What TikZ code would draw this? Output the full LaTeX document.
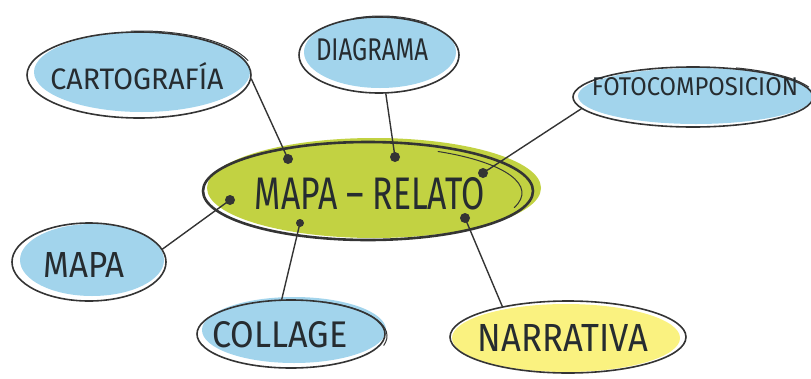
\documentclass[tikz,border=0pt]{standalone}
\usepackage{fontspec}
\setmainfont{Fira Sans}
\usepackage{graphicx}
\usetikzlibrary{shapes.geometric}
\definecolor{ink}{RGB}{38,44,48}
\definecolor{outline}{RGB}{52,52,52}
\definecolor{skyfill}{RGB}{162,212,236}
\definecolor{limefill}{RGB}{194,210,66}
\definecolor{lemonfill}{RGB}{250,242,128}
% lettering squeezed to a given width and cap height
\newcommand\handtext[3]{\resizebox{#1}{#2}{#3}}

\begin{document}
\begin{tikzpicture}[x=1pt,y=-1pt,
  bubble/.style={ellipse, draw=outline, line width=1.6pt, inner sep=0pt},
  hub/.style={ellipse, draw=outline, line width=2.6pt, inner sep=0pt},
  word/.style={text=ink, inner sep=0pt},
  wire/.style={draw=outline, line width=1.4pt, line cap=round},
  sketch/.style={draw=outline, line width=1pt, line cap=round},
  knot/.style={circle, fill=outline, inner sep=0pt, minimum size=10pt}]
\useasboundingbox (0,0) rectangle (811,378);

% colour washes, laid a little off the outlines
\fill[skyfill]   (142,72)  ellipse [x radius=108, y radius=40];
\fill[skyfill]   (380,52)  ellipse [x radius=76,  y radius=36];
\fill[skyfill]   (696,96)  ellipse [x radius=118, y radius=28];
\fill[limefill]  (374,188) ellipse [x radius=167, y radius=50];
\fill[skyfill]   (92,260)  ellipse [x radius=72,  y radius=36];
\fill[skyfill]   (294,330) ellipse [x radius=92,  y radius=33];
\fill[lemonfill] (566,338) ellipse [x radius=114, y radius=34];

% bubbles
\node[bubble, minimum width=224pt, minimum height=86pt] (cart) at (139,75)  {};
\node[bubble, minimum width=160pt, minimum height=76pt] (diag) at (379,55)  {};
\node[bubble, minimum width=240pt, minimum height=60pt] (foto) at (693,97)  {};
\node[hub,    minimum width=330pt, minimum height=98pt] (hub)  at (368,191) {};
\node[bubble, minimum width=154pt, minimum height=78pt] (mapa) at (89,262)  {};
\node[bubble, minimum width=188pt, minimum height=68pt] (coll) at (291,334) {};
\node[bubble, minimum width=236pt, minimum height=72pt] (narr) at (568,337) {};

% sketchy second strokes (negative angles point up the page)
\draw[sketch, shift={(364,193)}] (-62:158 and 47) arc[start angle=-62, end angle=18, x radius=158, y radius=47];
\draw[sketch, shift={(141,76)}] (-95:114 and 45) arc[start angle=-95, end angle=-20, x radius=114, y radius=45];
\draw[sketch, shift={(381,56)}] (-110:80 and 40) arc[start angle=-110, end angle=-55, x radius=80, y radius=40];
\draw[sketch, shift={(695,98)}] (-70:121 and 32) arc[start angle=-70, end angle=-20, x radius=121, y radius=32];
\draw[sketch, shift={(293,336)}] (-70:94 and 36) arc[start angle=-70, end angle=15, x radius=94, y radius=36];

% labels
\node[word] (cart-t) at (137,76)  {\handtext{173pt}{27pt}{CARTOGRAFÍA}};
\node[word] (diag-t) at (372,50)  {\handtext{112pt}{22pt}{DIAGRAMA}};
\node[word] (foto-t) at (695,87)  {\handtext{206pt}{18pt}{FOTOCOMPOSICION}};
\node[word] (hub-t)  at (370,194) {\handtext{230pt}{32pt}{MAPA – RELATO}};
\node[word] (mapa-t) at (84,265)  {\handtext{81pt}{25pt}{MAPA}};
\node[word] (coll-t) at (280,335) {\handtext{135pt}{26pt}{COLLAGE}};
\node[word] (narr-t) at (563,338) {\handtext{170pt}{27pt}{NARRATIVA}};

% anchor dots on the hub
\node[knot] (k1) at (288,159) {};
\node[knot] (k2) at (395,157) {};
\node[knot] (k3) at (483,173) {};
\node[knot] (k4) at (230,200) {};
\node[knot, minimum size=8pt] (k5) at (300,223) {};
\node[knot] (k6) at (465,218) {};

% connectors
\draw[wire] (cart.-2)   -- (k1.center);
\draw[wire] (diag.-80)  -- (k2.center);
\draw[wire] (foto.186)  -- (k3.center);
\draw[wire] (mapa.10)   -- (k4.center);
\draw[wire] (coll.105)  -- (k5.center);
\draw[wire] (narr.155)  -- (k6.center);
\end{tikzpicture}
\end{document}
